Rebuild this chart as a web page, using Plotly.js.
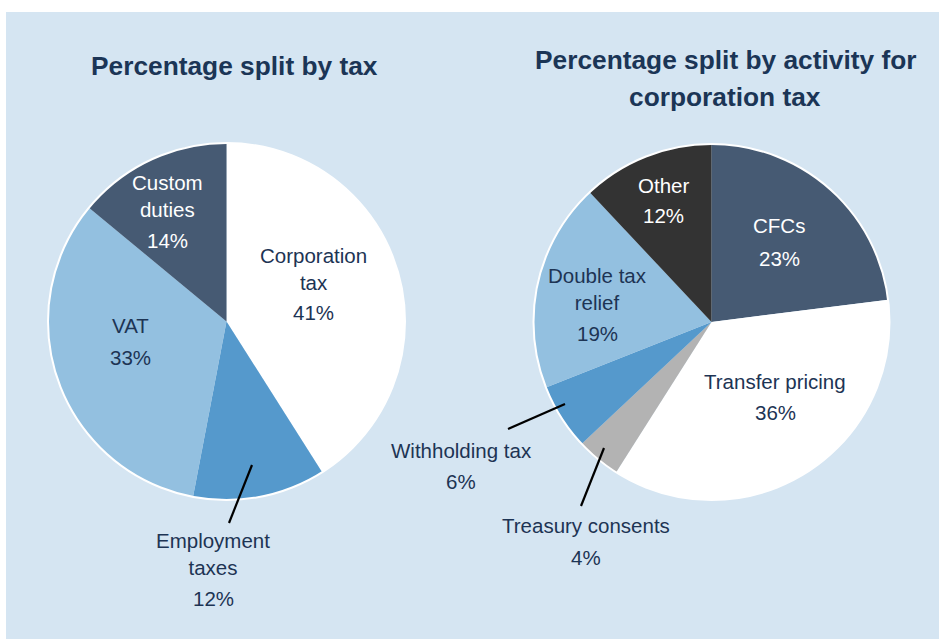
<!DOCTYPE html>
<html>
<head>
<meta charset="utf-8">
<script src="https://cdn.plot.ly/plotly-3.0.1.min.js"></script>
<style>
html,body{margin:0;padding:0;background:#ffffff;width:939px;height:639px;overflow:hidden;}
#chart{position:absolute;left:6px;top:12px;width:933px;height:627px;}
</style>
</head>
<body>
<div id="chart"></div>
<script>
// ---- Data ----
const taxLabels = ["Corporation tax", "Employment taxes", "VAT", "Custom duties"];
const taxValues = [41, 12, 33, 14];
const taxColors = ["#ffffff", "#5599cc", "#93c0e0", "#465a73"];

const actLabels = ["CFCs", "Transfer pricing", "Treasury consents", "Withholding tax", "Double tax relief", "Other"];
const actValues = [23, 36, 4, 6, 19, 12];
const actColors = ["#465a73", "#ffffff", "#b3b3b3", "#5599cc", "#93c0e0", "#333333"];

const titleLeft = ["Percentage split by tax"];
const titleRight = ["Percentage split by activity for", "corporation tax"];

// ---- Layout helpers (page pixels -> paper) ----
const OX = 6, OY = 12, W = 933, H = 627;
const px = x => (x - OX) / W;
const py = y => 1 - (y - OY) / H;

const navy = "#1d3454";
const FONT = "Liberation Sans, Arial, Helvetica, sans-serif";

// label display settings: [display text, label x, label y, pct y, colour]
const taxLabelPos = [
  ["Corporation<br>tax", 313, 269, 312, navy],
  ["Employment<br>taxes", 213, 554, 598, navy],
  ["VAT", 130, 325, 357, navy],
  ["Custom<br>duties", 167, 196, 240, "#ffffff"]
];
const actLabelPos = [
  ["CFCs", 779, 226, 258, "#ffffff"],
  ["Transfer pricing", 775, 381, 412, navy],
  ["Treasury consents", 586, 525, 557, navy],
  ["Withholding tax", 461, 450, 481, navy],
  ["Double tax<br>relief", 597, 289, 333, navy],
  ["Other", 663, 185, 215, "#ffffff"]
];

const annotations = [];
function addLabels(values, pos) {
  values.forEach((v, i) => {
    const [txt, x, ly, pyy, col] = pos[i];
    annotations.push({text: txt, x: px(x), y: py(ly), xref: "paper", yref: "paper",
      showarrow: false, xanchor: "center", yanchor: "middle",
      font: {family: FONT, size: 20.5, color: col}});
    annotations.push({text: v + "%", x: px(x), y: py(pyy), xref: "paper", yref: "paper",
      showarrow: false, xanchor: "center", yanchor: "middle",
      font: {family: FONT, size: 20.5, color: col}});
  });
}
addLabels(taxValues, taxLabelPos);
addLabels(actValues, actLabelPos);

const titleFont = {family: FONT, size: 26.3, color: "#1b3556"};
annotations.push({text: "<b>" + titleLeft[0] + "</b>", x: px(234.5), y: py(66), xref: "paper", yref: "paper",
  showarrow: false, xanchor: "center", yanchor: "middle", font: titleFont});
annotations.push({text: "<b>" + titleRight[0] + "</b>", x: px(725), y: py(60), xref: "paper", yref: "paper",
  showarrow: false, xanchor: "center", yanchor: "middle", font: titleFont});
annotations.push({text: "<b>" + titleRight[1] + "</b>", x: px(725), y: py(97), xref: "paper", yref: "paper",
  showarrow: false, xanchor: "center", yanchor: "middle", font: titleFont});

// pie outlines (outer white ring) and leader lines
const pieBoxes = [[48, 143, 405, 500], [533.5, 144, 889.5, 500]];
const shapes = pieBoxes.map(b => ({type: "circle", xref: "paper", yref: "paper",
  x0: px(b[0]), y0: py(b[3]), x1: px(b[2]), y1: py(b[1]),
  line: {color: "#ffffff", width: 2}, fillcolor: "rgba(0,0,0,0)", layer: "above"}));
const leaders = [[252, 465, 229, 523], [565, 404, 508, 429], [604, 448, 581, 506]];
leaders.forEach(l => shapes.push({type: "line", xref: "paper", yref: "paper",
  x0: px(l[0]), y0: py(l[1]), x1: px(l[2]), y1: py(l[3]),
  line: {color: "#000000", width: 2.2}, layer: "above"}));

const traces = [
  {type: "pie", labels: taxLabels, values: taxValues, sort: false, direction: "clockwise", rotation: 0,
   marker: {colors: taxColors, line: {color: "#ffffff", width: 0}}, textinfo: "none", hoverinfo: "none",
   domain: {x: [px(pieBoxes[0][0]), px(pieBoxes[0][2])], y: [py(pieBoxes[0][3]), py(pieBoxes[0][1])]}},
  {type: "pie", labels: actLabels, values: actValues, sort: false, direction: "clockwise", rotation: 0,
   marker: {colors: actColors, line: {color: "#ffffff", width: 0}}, textinfo: "none", hoverinfo: "none",
   domain: {x: [px(pieBoxes[1][0]), px(pieBoxes[1][2])], y: [py(pieBoxes[1][3]), py(pieBoxes[1][1])]}}
];

const layout = {
  width: W, height: H, margin: {l: 0, r: 0, t: 0, b: 0},
  paper_bgcolor: "#d5e5f2", plot_bgcolor: "#d5e5f2",
  showlegend: false, annotations: annotations, shapes: shapes
};
Plotly.newPlot("chart", traces, layout, {displayModeBar: false, staticPlot: true});
</script>
</body>
</html>
